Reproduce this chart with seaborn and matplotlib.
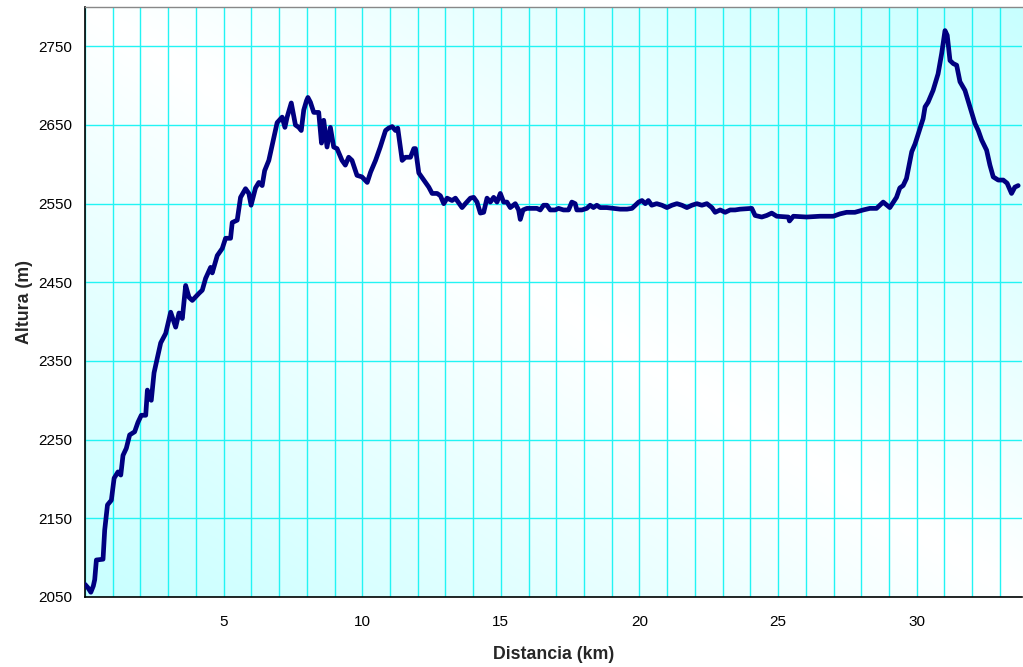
import numpy as np
import matplotlib
matplotlib.use("Agg")
import matplotlib.pyplot as plt
from matplotlib.colors import LinearSegmentedColormap
from matplotlib.ticker import MultipleLocator, FixedLocator
import seaborn as sns

# Elevation profile: distance (km) and altitude (m)
distancia_km = [
    0.00, 0.10, 0.21, 0.30, 0.35, 0.41, 0.65, 0.71, 0.81, 0.95,
    1.05, 1.19, 1.29, 1.37, 1.49, 1.61, 1.79, 1.91, 2.03, 2.19,
    2.25, 2.30, 2.39, 2.49, 2.73, 2.91, 3.09, 3.27, 3.39, 3.51,
    3.63, 3.75, 3.87, 4.11, 4.23, 4.35, 4.53, 4.59, 4.77, 4.95,
    5.07, 5.25, 5.31, 5.49, 5.61, 5.79, 5.91, 5.99, 6.15, 6.27,
    6.39, 6.48, 6.63, 6.75, 6.93, 7.11, 7.21, 7.29, 7.44, 7.59,
    7.71, 7.80, 7.89, 7.99, 8.04, 8.13, 8.25, 8.43, 8.53, 8.61,
    8.73, 8.85, 8.97, 9.09, 9.27, 9.39, 9.51, 9.63, 9.81, 9.99,
    10.18, 10.30, 10.48, 10.65, 10.84, 10.95, 11.08, 11.20, 11.28, 11.44,
    11.56, 11.74, 11.86, 11.92, 12.04, 12.22, 12.40, 12.52, 12.70, 12.82,
    12.94, 13.06, 13.24, 13.36, 13.60, 13.72, 13.90, 14.02, 14.14, 14.26,
    14.38, 14.50, 14.62, 14.74, 14.86, 14.98, 15.10, 15.22, 15.34, 15.52,
    15.64, 15.70, 15.80, 15.94, 16.12, 16.30, 16.42, 16.54, 16.66, 16.78,
    16.96, 17.08, 17.26, 17.44, 17.56, 17.68, 17.74, 17.92, 18.10, 18.22,
    18.34, 18.46, 18.58, 18.82, 19.06, 19.30, 19.55, 19.73, 19.85, 19.97,
    20.09, 20.21, 20.32, 20.44, 20.62, 20.81, 20.99, 21.17, 21.35, 21.53,
    21.71, 21.89, 22.07, 22.25, 22.43, 22.61, 22.73, 22.91, 23.09, 23.27,
    23.45, 23.63, 24.05, 24.17, 24.41, 24.59, 24.77, 24.95, 25.37, 25.41,
    25.55, 26.03, 26.51, 26.99, 27.23, 27.47, 27.77, 28.07, 28.31, 28.55,
    28.79, 29.03, 29.27, 29.39, 29.51, 29.63, 29.82, 29.94, 30.11, 30.23,
    30.30, 30.41, 30.59, 30.77, 30.90, 31.02, 31.10, 31.20, 31.32, 31.44,
    31.56, 31.74, 31.92, 32.10, 32.22, 32.34, 32.52, 32.64, 32.76, 32.94,
    33.12, 33.26, 33.42, 33.54, 33.66,
]
altura_m = [
    2066, 2062, 2056, 2064, 2072, 2097, 2098, 2135, 2167, 2173,
    2201, 2209, 2205, 2230, 2239, 2256, 2260, 2272, 2281, 2281,
    2313, 2303, 2300, 2335, 2373, 2385, 2412, 2393, 2411, 2404,
    2446, 2431, 2427, 2436, 2440, 2455, 2469, 2462, 2484, 2493,
    2506, 2506, 2526, 2529, 2558, 2569, 2563, 2548, 2570, 2577,
    2573, 2592, 2605, 2624, 2653, 2660, 2647, 2660, 2678, 2650,
    2647, 2643, 2669, 2681, 2685, 2679, 2666, 2666, 2627, 2656,
    2622, 2647, 2622, 2620, 2605, 2599, 2609, 2605, 2586, 2584,
    2577, 2590, 2605, 2622, 2643, 2646, 2648, 2643, 2646, 2605,
    2609, 2609, 2620, 2620, 2589, 2580, 2571, 2563, 2563, 2560,
    2550, 2557, 2554, 2557, 2545, 2550, 2557, 2558, 2552, 2538,
    2539, 2557, 2552, 2558, 2552, 2563, 2552, 2552, 2545, 2550,
    2542, 2530, 2542, 2544, 2544, 2544, 2542, 2548, 2548, 2542,
    2542, 2544, 2542, 2542, 2552, 2550, 2542, 2542, 2544, 2548,
    2545, 2548, 2545, 2545, 2544, 2543, 2543, 2544, 2548, 2552,
    2554, 2550, 2554, 2548, 2550, 2548, 2545, 2548, 2550, 2548,
    2545, 2548, 2550, 2548, 2550, 2545, 2539, 2542, 2539, 2542,
    2542, 2543, 2544, 2535, 2533, 2535, 2538, 2534, 2533, 2528,
    2534, 2533, 2534, 2534, 2537, 2539, 2539, 2542, 2544, 2544,
    2552, 2545, 2558, 2570, 2573, 2582, 2616, 2626, 2645, 2658,
    2673, 2679, 2694, 2715, 2741, 2770, 2764, 2732, 2728, 2726,
    2705, 2694, 2673, 2652, 2643, 2631, 2618, 2599, 2584, 2580,
    2580, 2576, 2563, 2571, 2573,
]

y_ticks = [2050, 2150, 2250, 2350, 2450, 2550, 2650, 2750]
x_ticks = [0, 5, 10, 15, 20, 25, 30]
x_tick_labels = ["", "5", "10", "15", "20", "25", "30"]

X_MAX = 33.8
Y_MIN, Y_MAX = 2050, 2800

sns.set_style("white")
plt.rcParams["font.family"] = ["Liberation Sans", "DejaVu Sans"]

fig = plt.figure(figsize=(10.23, 6.67), dpi=100)
ax = fig.add_axes([0.0831, 0.105, 0.9160, 0.8845])

# Diagonal two-way gradient fill: light cyan in the bottom-left and top-right corners
nx, ny = 400, 300
gx, gy = np.meshgrid(np.linspace(0, 1, nx), np.linspace(0, 1, ny))
shade = np.abs(gx + gy - 1.0)
cmap = LinearSegmentedColormap.from_list("bg", ["#FFFFFF", "#C8FFFF"])
ax.imshow(shade, cmap=cmap, vmin=0, vmax=1, origin="lower", aspect="auto",
          extent=[0, X_MAX, Y_MIN, Y_MAX], zorder=0, interpolation="bilinear")

sns.lineplot(x=distancia_km, y=altura_m, ax=ax, color="#000080",
             linewidth=3.4, sort=False, estimator=None, zorder=3)

ax.set_xlim(0, X_MAX)
ax.set_ylim(Y_MIN, Y_MAX)

ax.xaxis.set_major_locator(FixedLocator(x_ticks))
ax.set_xticklabels(x_tick_labels)
ax.xaxis.set_minor_locator(MultipleLocator(1))
ax.set_yticks(y_ticks)

ax.set_axisbelow(True)
ax.grid(which="both", axis="x", color="#22F4F4", linewidth=1.0, zorder=1)
ax.grid(which="major", axis="y", color="#22F4F4", linewidth=1.0, zorder=1)

ax.tick_params(axis="both", which="major", direction="out", length=5, width=1,
               color="#444444", labelsize=11, labelcolor="black", pad=4)
ax.tick_params(axis="x", which="minor", length=0)
ax.tick_params(axis="x", which="major", pad=8)

for side in ("left", "bottom"):
    ax.spines[side].set_color("black")
    ax.spines[side].set_linewidth(1.2)
ax.spines["top"].set_color("#888888")
ax.spines["top"].set_linewidth(1.0)
ax.spines["right"].set_visible(False)

ax.set_xlabel("Distancia (km)", fontsize=12.8, fontweight="bold", labelpad=12)
ax.set_ylabel("Altura (m)", fontsize=12.8, fontweight="bold", labelpad=4)

fig.savefig("out.png", dpi=100, facecolor="white")
